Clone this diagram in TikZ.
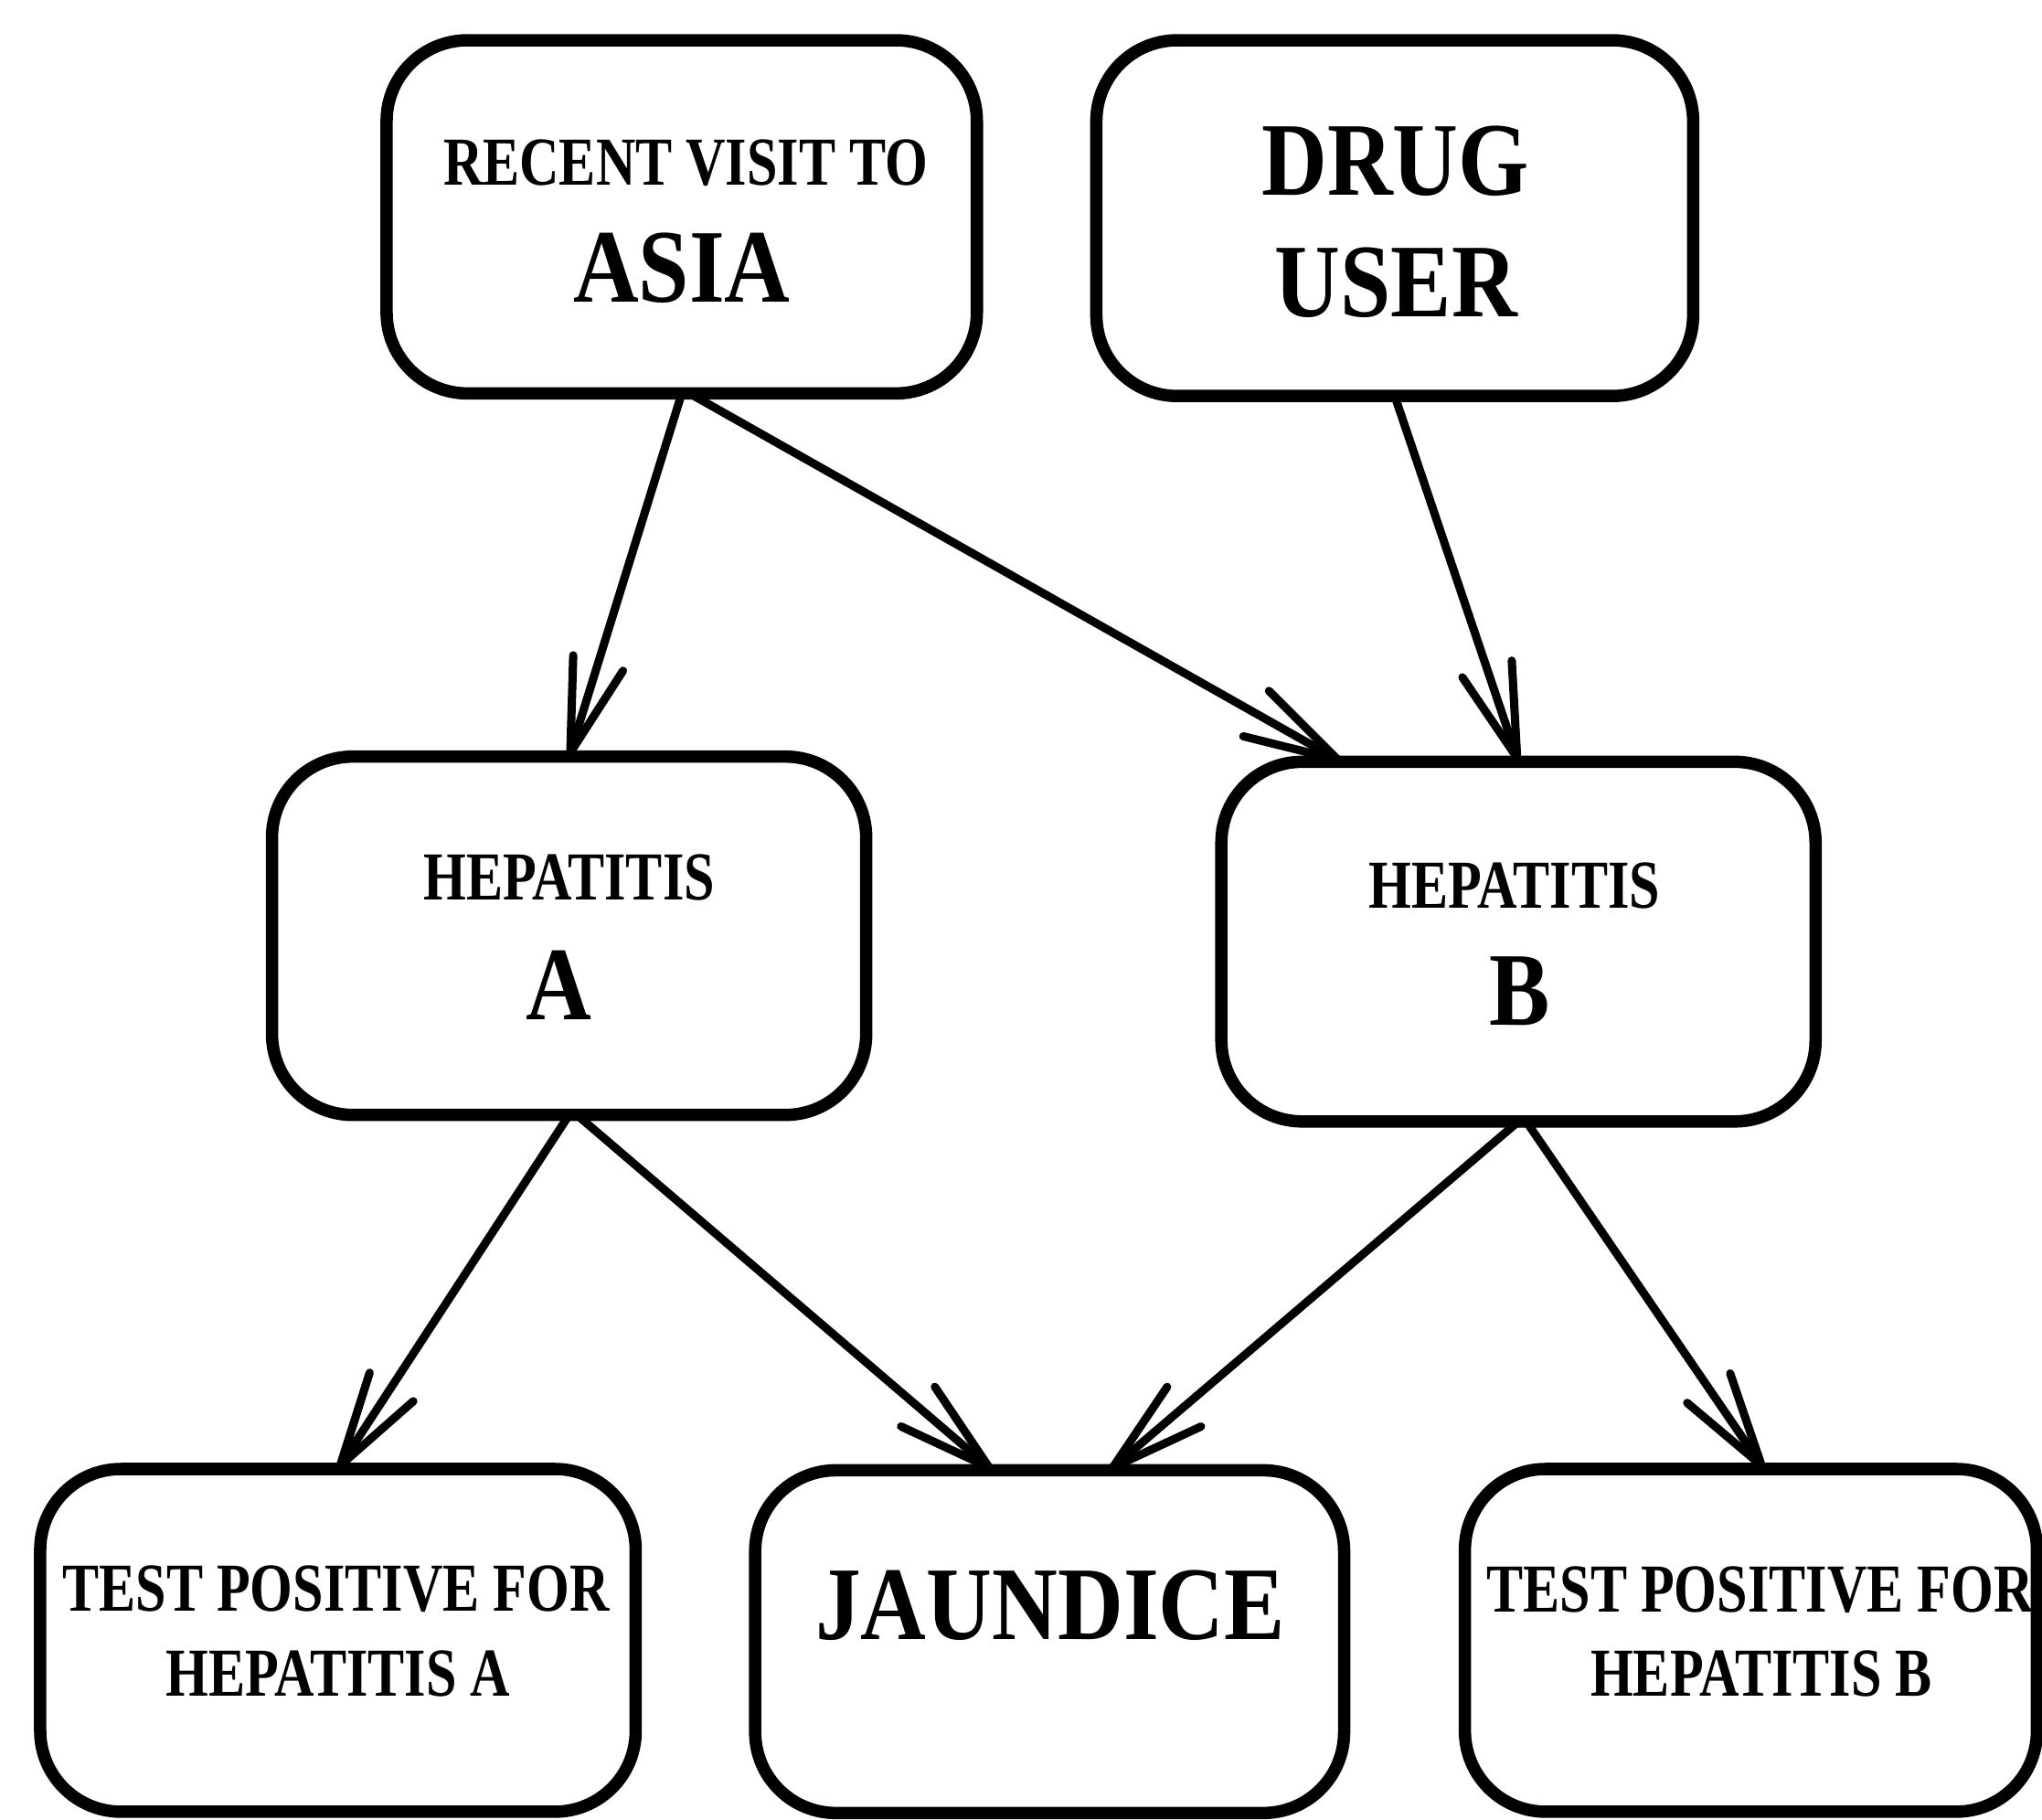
\documentclass[tikz,border=0pt]{standalone}
\usepackage{fontspec}
\setmainfont{Liberation Serif}
\newfontfamily\lblfont[FakeStretch=0.8]{Liberation Serif}
\newfontfamily\bigfont[FakeStretch=0.87]{Liberation Serif}
\usetikzlibrary{arrows.meta,calc}
\tikzset{
  box/.style={draw, line width=2.7pt, rounded corners=0.62cm, inner sep=0pt, outer sep=0pt},
  smalltxt/.style={font=\lblfont\bfseries\fontsize{15pt}{18pt}\selectfont, anchor=base, inner sep=0pt},
  bigtxt/.style={font=\bigfont\bfseries\fontsize{22.8pt}{27pt}\selectfont, anchor=base, inner sep=0pt},
  arr/.style={line width=1.8pt, line cap=round, -{Straight Barb[length=0.72cm,width=0.4cm,round]}},
}
\begin{document}
\begin{tikzpicture}[x=0.01cm, y=-0.01cm]
\fill[white] (0,0) rectangle (1568,1397);
\useasboundingbox (0,0) rectangle (1568,1397);

% boxes
\node[box, minimum width=4.53cm, minimum height=2.71cm] (asia)  at (523.5,166.5) {};
\node[box, minimum width=4.58cm, minimum height=2.73cm] (drug)  at (1071,167.5) {};
\node[box, minimum width=4.56cm, minimum height=2.75cm] (hepa)  at (437,718.5) {};
\node[box, minimum width=4.56cm, minimum height=2.76cm] (hepb)  at (1166,723) {};
\node[box, minimum width=4.57cm, minimum height=2.63cm] (testa) at (259.5,1259.5) {};
\node[box, minimum width=4.52cm, minimum height=2.63cm] (jaun)  at (806,1260.5) {};
\node[box, minimum width=4.39cm, minimum height=2.63cm] (testb) at (1344.5,1259.5) {};

% texts
\node[smalltxt] (asiaA) at (526.5,142) {RECENT VISIT TO};
\node[bigtxt]   (asiaB) at (523.5,232) {ASIA};
\node[bigtxt]   (drugA) at (1071.5,150) {DRUG};
\node[bigtxt]   (drugB) at (1072,243) {USER};
\node[smalltxt] (hepaA) at (437,691) {HEPATITIS};
\node[bigtxt]   (hepaB) at (429,783) {A};
\node[smalltxt] (hepbA) at (1163,697) {HEPATITIS};
\node[bigtxt]   (hepbB) at (1167,787) {B};
\node[smalltxt] (testaA) at (258,1237) {TEST POSITIVE FOR};
\node[smalltxt] (testaB) at (259.5,1302) {HEPATITIS A};
\node[bigtxt]   (jaunA) at (806.5,1259) {JAUNDICE};
\node[smalltxt] (testbA) at (1351.5,1238) {TEST POSITIVE FOR};
\node[smalltxt] (testbB) at (1352.5,1302) {HEPATITIS B};

% connectors
\draw[arr] (asia.south) -- (hepa.north);
\draw[arr] ($(asia.south)+(6,0)$) -- ($(hepb.north)+(-136,0)$);
\draw[arr] (drug.south) -- (hepb.north);
\draw[arr] (hepa.south) -- (testa.north);
\draw[arr] ($(hepa.south)+(6,0)$) -- ($(jaun.north)+(-44,0)$);
\draw[arr] (hepb.south) -- ($(jaun.north)+(46,0)$);
\draw[arr] ($(hepb.south)+(6,0)$) -- ($(testb.north)+(10,0)$);
\end{tikzpicture}
\end{document}
